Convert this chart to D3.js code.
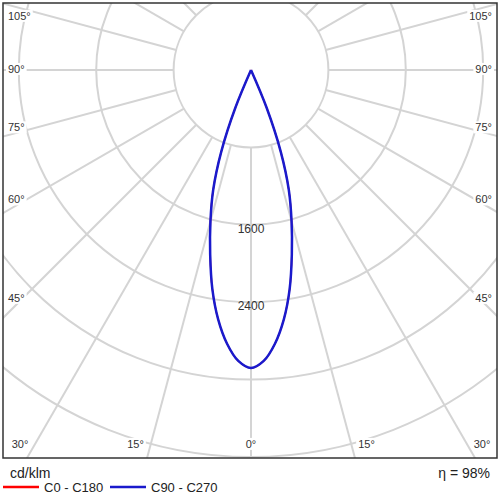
<!DOCTYPE html><html><head><meta charset="utf-8"><script src="https://cdn.jsdelivr.net/npm/d3@7"></script>
<style>body{margin:0;background:#fff}text{font-family:Arial,"Liberation Sans",sans-serif}</style></head><body>
<svg id="c" width="500" height="500"></svg>
<script>
const ringValues=[800,1600,2400,3200,4000];
const ringLabels=[1600,2400];
const rayAngles=d3.range(-180,181,15);
const curveAngles=[0,2.5,5,7.5,10,12.5,15,17.5,20,22.5,25];
const c0c180=[3080,3010,2840,2600,2300,1950,1620,1300,900,420,0];
const c90c270=[3080,3010,2840,2600,2300,1950,1620,1300,900,420,0];
const sideLabels=[45,60,75,90,105];
const bottomLabels=[30,15,0,15,30];
const svg=d3.select("#c");
const cx=251,cy=70;
const r=d3.scaleLinear().domain([0,4000]).range([0,387]);
const g=svg.append("g");
svg.append("clipPath").attr("id","cl").append("rect").attr("x",3).attr("y",3).attr("width",494).attr("height",455);
const grid=g.append("g").attr("clip-path","url(#cl)");
grid.selectAll("circle").data(ringValues).join("circle").attr("cx",cx).attr("cy",cy).attr("r",d=>r(d)).attr("fill","none").attr("stroke","#d4d4d4").attr("stroke-width",2);
const pt=(a,v)=>[cx+r(v)*Math.sin(a*Math.PI/180),cy+r(v)*Math.cos(a*Math.PI/180)];
grid.selectAll("line").data(rayAngles).join("line")
 .attr("x1",d=>pt(d,800)[0]).attr("y1",d=>pt(d,800)[1]).attr("x2",d=>pt(d,9000)[0]).attr("y2",d=>pt(d,9000)[1])
 .attr("stroke","#d4d4d4").attr("stroke-width",2);
function lbl(x,y,t,anchor,size){
 const tx=g.append("text").attr("x",x).attr("y",y).attr("text-anchor",anchor).attr("dominant-baseline","middle").attr("font-size",size).attr("fill","#333").text(t);
 const b=tx.node().getBBox();
 g.insert("rect","text:last-of-type").attr("x",b.x-2).attr("y",b.y).attr("width",b.width+4).attr("height",b.height).attr("fill","#fff");
}
sideLabels.forEach(a=>{
 const y=cy+(cx-18)/Math.tan(a*Math.PI/180);
 const yy=a==105?17:(a==90?70:y-4);
 lbl(8,yy,a+"°","start",11);
 lbl(492,yy,a+"°","end",11);
});
const bx=d3.scaleLinear().domain([-2,2]).range([20,482]);
bottomLabels.forEach((a,i)=>lbl(bx(i-2),445,a+"°","middle",11));
const line=d3.lineRadial().angle(d=>Math.PI-d[0]*Math.PI/180).radius(d=>r(d[1])).curve(d3.curveCatmullRom);
function shape(vals){const right=curveAngles.map((a,i)=>[a,vals[i]]);const left=curveAngles.map((a,i)=>[-a,vals[i]]).reverse();return left.concat(right.slice(1));}
g.append("path").attr("transform",`translate(${cx},${cy})`).attr("d",line(shape(c0c180))).attr("fill","none").attr("stroke","#ff0000").attr("stroke-width",1.5);
g.append("path").attr("transform",`translate(${cx},${cy})`).attr("d",line(shape(c90c270))).attr("fill","none").attr("stroke","#1a1acc").attr("stroke-width",2.5);
ringLabels.forEach(v=>g.append("text").attr("x",cx).attr("y",cy+r(v)+5).attr("text-anchor","middle").attr("dominant-baseline","middle").attr("font-size",12).attr("fill","#333").text(v));
svg.append("rect").attr("x",3).attr("y",3).attr("width",494).attr("height",455).attr("fill","none").attr("stroke","#333").attr("stroke-width",1.5);
svg.append("text").attr("x",10).attr("y",478).attr("font-size",14).attr("fill","#222").text("cd/klm");
svg.append("text").attr("x",490).attr("y",478).attr("text-anchor","end").attr("font-size",14).attr("fill","#222").text("η = 98%");
const leg=[["C0 - C180","#ff0000",3],["C90 - C270","#1a1acc",110]];
leg.forEach(([t,c,x])=>{svg.append("line").attr("x1",x).attr("x2",x+36).attr("y1",487).attr("y2",487).attr("stroke",c).attr("stroke-width",2.5);
svg.append("text").attr("x",x+41).attr("y",492).attr("font-size",13).attr("fill","#222").text(t);});
</script></body></html>
